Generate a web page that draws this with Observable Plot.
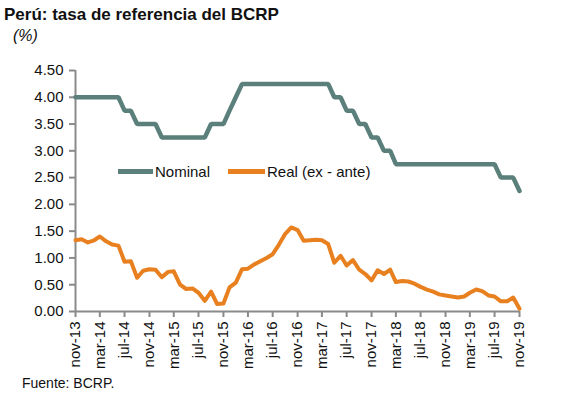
<!DOCTYPE html>
<html>
<head>
<meta charset="utf-8">
<script src="https://cdn.jsdelivr.net/npm/d3@7"></script>
<script src="https://cdn.jsdelivr.net/npm/@observablehq/plot@0.6"></script>
<style>
  html, body { margin: 0; padding: 0; background: #fff; }
  #wrap { position: relative; width: 576px; height: 396px; font-family: "Liberation Sans", Arial, sans-serif; color: #111; }
  #wrap svg { position: absolute; left: 0; top: 0; }
  .t { position: absolute; white-space: nowrap; line-height: 1; }
  #title { left: 4px; top: 5.6px; font-size: 17px; font-weight: bold; }
  #subtitle { left: 13px; top: 28px; font-size: 16px; font-style: italic; }
  #caption { left: 22px; top: 376px; font-size: 14px; }
  .sw { position: absolute; height: 5px; }
  .lg { font-size: 15px; top: 164px; }
</style>
</head>
<body>
<div id="wrap">
  <div class="t" id="title">Perú: tasa de referencia del BCRP</div>
  <div class="t" id="subtitle">(%)</div>
  <div class="t" id="caption">Fuente: BCRP.</div>
</div>
<script>
// Monthly series, nov-13 ... nov-19
const seriesNames = ["Nominal", "Real (ex - ante)"];
const seriesColors = ["#5b7f7a", "#e8801f"];
const nominal = [
  4.00, 4.00, 4.00, 4.00, 4.00, 4.00, 4.00, 4.00, 3.75, 3.75, 3.50, 3.50, 3.50,
  3.50, 3.25, 3.25, 3.25, 3.25, 3.25, 3.25, 3.25, 3.25, 3.50, 3.50, 3.50,
  3.75, 4.00, 4.25, 4.25, 4.25, 4.25, 4.25, 4.25, 4.25, 4.25, 4.25, 4.25,
  4.25, 4.25, 4.25, 4.25, 4.25, 4.00, 4.00, 3.75, 3.75, 3.50, 3.50, 3.25,
  3.25, 3.00, 3.00, 2.75, 2.75, 2.75, 2.75, 2.75, 2.75, 2.75, 2.75, 2.75,
  2.75, 2.75, 2.75, 2.75, 2.75, 2.75, 2.75, 2.75, 2.50, 2.50, 2.50, 2.25
];
const real = [
  1.33, 1.35, 1.29, 1.33, 1.40, 1.31, 1.25, 1.23, 0.93, 0.94, 0.63, 0.76, 0.79,
  0.78, 0.64, 0.74, 0.75, 0.50, 0.42, 0.43, 0.35, 0.20, 0.37, 0.14, 0.15,
  0.45, 0.54, 0.79, 0.80, 0.88, 0.94, 1.00, 1.07, 1.25, 1.45, 1.57, 1.52,
  1.32, 1.33, 1.34, 1.33, 1.26, 0.91, 1.04, 0.86, 0.96, 0.78, 0.70, 0.58,
  0.77, 0.70, 0.78, 0.55, 0.57, 0.56, 0.52, 0.46, 0.41, 0.37, 0.32, 0.30,
  0.28, 0.26, 0.28, 0.35, 0.41, 0.38, 0.30, 0.28, 0.19, 0.19, 0.26, 0.05
];
const tickLabels = [
  "nov-13", "mar-14", "jul-14", "nov-14", "mar-15", "jul-15", "nov-15",
  "mar-16", "jul-16", "nov-16", "mar-17", "jul-17", "nov-17", "mar-18",
  "jul-18", "nov-18", "mar-19", "jul-19", "nov-19"
];
const yTicks = [0, 0.5, 1, 1.5, 2, 2.5, 3, 3.5, 4, 4.5];

const dates = nominal.map((_, i) => new Date(Date.UTC(2013, 10 + i, 1)));
const rows = dates.map((d, i) => ({date: d, nominal: nominal[i], real: real[i]}));
const tickDates = tickLabels.map((_, i) => dates[i * 4]);
const labelOf = new Map(tickDates.map((d, i) => [+d, tickLabels[i]]));
const axisColor = "#8a8a8a";

const chart = Plot.plot({
  width: 576, height: 396,
  marginLeft: 75, marginRight: 57, marginTop: 70, marginBottom: 85,
  style: {fontFamily: "'Liberation Sans', Arial, sans-serif", fontSize: "15px", color: "#111", background: "transparent"},
  x: {type: "utc", domain: [dates[0], dates[dates.length - 1]]},
  y: {domain: [0, 4.5]},
  marks: [
    Plot.axisY({ticks: yTicks, tickFormat: d3.format(".2f"), tickSize: 6, tickPadding: 6, stroke: axisColor, strokeWidth: 2, fill: "#111", label: null, fontSize: 15}),
    Plot.axisX({ticks: tickDates, tickFormat: d => labelOf.get(+d), tickRotate: -90, tickSize: 6, tickPadding: 4, stroke: axisColor, strokeWidth: 2, fill: "#111", label: null, fontSize: 15}),
    Plot.ruleX([dates[0]], {stroke: axisColor, strokeWidth: 2}),
    Plot.ruleY([0], {stroke: axisColor, strokeWidth: 2}),
    Plot.lineY(rows, {x: "date", y: "nominal", stroke: seriesColors[0], strokeWidth: 4.5, strokeLinejoin: "miter"}),
    Plot.lineY(rows, {x: "date", y: "real", stroke: seriesColors[1], strokeWidth: 4, strokeLinejoin: "round"})
  ]
});
const wrap = document.getElementById("wrap");
wrap.insertBefore(chart, wrap.firstChild);

// legend
const legendPos = [{sw: 118, w: 35, tx: 155}, {sw: 228, w: 37, tx: 267}];
seriesNames.forEach((name, i) => {
  const s = document.createElement("div");
  s.className = "sw";
  s.style.left = legendPos[i].sw + "px";
  s.style.width = legendPos[i].w + "px";
  s.style.top = "169px";
  s.style.background = seriesColors[i];
  wrap.appendChild(s);
  const t = document.createElement("div");
  t.className = "t lg";
  t.style.left = legendPos[i].tx + "px";
  t.textContent = name;
  wrap.appendChild(t);
});
</script>
</body>
</html>
